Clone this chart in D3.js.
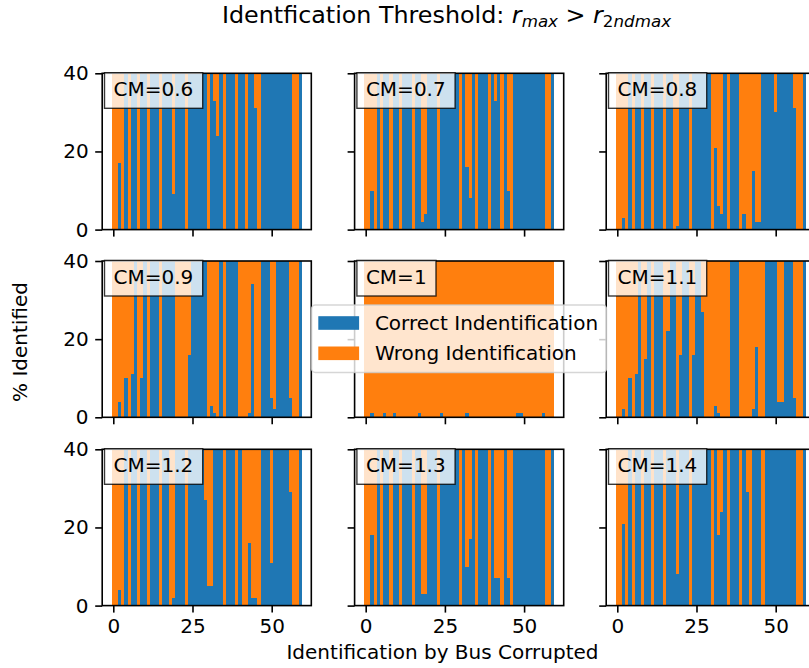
<!DOCTYPE html>
<html>
<head>
<meta charset="utf-8">
<script src="https://cdn.jsdelivr.net/npm/d3@7"></script>
<style>
  html, body { margin: 0; padding: 0; background: #ffffff; }
  svg { display: block; }
  text { font-family: "DejaVu Sans", sans-serif; fill: #000; }
</style>
</head>
<body>
<svg id="chart" width="809" height="668"></svg>
<script>
// Buses 0..59, each corrupted in 40 trials
const trialsPerBus = 40;
const buses = d3.range(60);
const xTicks = [0, 25, 50];
const yTicks = [0, 20, 40];
const cmLabels = ["CM=0.6", "CM=0.7", "CM=0.8", "CM=0.9", "CM=1", "CM=1.1", "CM=1.2", "CM=1.3", "CM=1.4"];
const seriesNames = ["Correct Indentification", "Wrong Identification"];

// Correct identifications per bus (out of 40) for each CM
const correctCM06 = [0,0,17,0,40,0,40,40,0,40, 40,0,40,40,40,0,40,40,40,9, 40,40,40,0,40,40,40,40,40,40, 0,40,33,24,40,0,40,40,40,0, 40,40,0,40,40,31,0,40,40,40, 40,40,40,40,40,40,40,0,0,40];
const correctCM07 = [0,0,10,0,40,0,40,40,0,40, 40,0,40,40,40,0,40,40,2,4, 40,40,40,0,40,40,40,40,40,40, 0,40,16,8,40,0,40,40,40,0, 40,33,40,0,40,10,0,40,40,40, 40,40,40,40,40,40,40,0,0,40];
const correctCM08 = [0,0,3,0,40,0,40,40,0,40, 40,0,40,40,40,0,40,40,0,1, 40,40,40,0,40,40,40,40,40,40, 0,21,6,4,40,0,40,40,40,0, 4,0,0,15,2,2,40,40,40,40, 30,40,40,40,40,40,31,0,0,40];
const correctCM09 = [0,0,4,0,10,0,11,40,0,10, 40,0,40,40,40,0,40,40,40,40, 0,0,0,0,16,40,40,40,40,40, 0,3,1,0,40,0,40,40,40,40, 0,0,0,1,34,0,0,40,40,40, 5,2,40,40,40,40,5,0,0,40];
const correctCM10 = [0,0,1,0,0,0,1,0,0,1, 0,0,0,0,0,0,0,1,0,0, 0,0,0,0,1,0,0,0,0,0, 0,0,1,0,0,0,0,0,0,0, 0,0,0,0,0,0,0,0,1,1, 0,0,0,0,0,0,1,0,0,0];
const correctCM11 = [0,0,2,0,10,0,11,40,0,15, 40,0,40,40,40,0,22,40,40,0, 16,40,40,0,16,40,40,27,0,0, 0,3,1,0,0,0,40,40,40,0, 0,0,0,2,18,0,0,40,40,40, 40,4,4,40,40,40,5,0,0,40];
const correctCM12 = [0,0,4,0,40,0,40,40,0,40, 40,0,40,40,40,0,40,40,0,2, 40,40,40,0,40,40,40,40,40,27, 5,5,40,40,40,0,40,40,40,0, 40,0,0,16,2,2,0,40,40,40, 11,40,40,40,40,40,29,0,0,40];
const correctCM13 = [0,0,18,0,40,0,40,40,0,40, 40,0,40,40,40,0,40,40,3,3, 40,40,40,0,40,40,40,40,40,40, 0,40,10,17,40,0,40,40,40,0, 40,7,7,0,40,7,0,40,40,40, 40,40,40,40,40,40,40,0,0,40];
const correctCM14 = [0,0,21,0,40,0,40,40,0,40, 40,0,40,40,40,0,40,40,40,8, 40,40,40,0,40,40,40,40,40,40, 0,40,18,24,40,0,40,40,40,0, 40,29,0,40,40,40,0,40,40,40, 40,40,40,40,40,40,40,0,0,40];

const correctByPanel = [correctCM06, correctCM07, correctCM08, correctCM09, correctCM10,
                        correctCM11, correctCM12, correctCM13, correctCM14];

const colors = { correct: "#1f77b4", wrong: "#ff7f0e" };

// Layout of the 3x3 grid
const colLeft = [102.2, 354.6, 606.2];
const rowTop = [73.3, 261.0, 449.3];
const panelW = 209.1, panelH = 156.3;
const fontSize = 20;
const tickLen = 7, lineW = 1.6;

const svg = d3.select("#chart");

const x = d3.scaleLinear().domain([-3.5, 62.5]).range([0, panelW]);
const y = d3.scaleLinear().domain([0, trialsPerBus]).range([panelH, 0]);

correctByPanel.forEach((correct, i) => {
  const row = Math.floor(i / 3), col = i % 3;
  const g = svg.append("g").attr("transform", `translate(${colLeft[col]},${rowTop[row]})`);

  const rows = buses.map(b => ({ bus: b, correct: correct[b], wrong: trialsPerBus - correct[b] }));
  const stacked = d3.stack().keys(["correct", "wrong"])(rows);

  g.append("g").selectAll("g")
    .data(stacked)
    .join("g")
    .attr("fill", d => colors[d.key])
    .selectAll("rect")
    .data(d => d)
    .join("rect")
    .attr("shape-rendering", "crispEdges")
    .attr("x", d => x(d.data.bus - 0.5))
    .attr("width", d => x(d.data.bus + 0.5) - x(d.data.bus - 0.5))
    .attr("y", d => y(d[1]))
    .attr("height", d => y(d[0]) - y(d[1]));

  // axes frame
  g.append("rect")
    .attr("width", panelW).attr("height", panelH)
    .attr("fill", "none").attr("stroke", "#000").attr("stroke-width", lineW);

  const yAxis = d3.axisLeft(y).tickValues(yTicks).tickSize(tickLen).tickPadding(6.6)
    .tickFormat(col === 0 ? d3.format("d") : () => "");
  const xAxis = d3.axisBottom(x).tickValues(xTicks).tickSize(tickLen).tickPadding(6.4)
    .tickFormat(row === 2 ? d3.format("d") : () => "");

  const ya = g.append("g").call(yAxis);
  const xa = g.append("g").attr("transform", `translate(0,${panelH})`).call(xAxis);
  [ya, xa].forEach(a => {
    a.attr("font-family", "DejaVu Sans").attr("font-size", fontSize);
    a.select(".domain").remove();
    a.selectAll(".tick line").attr("stroke", "#000").attr("stroke-width", lineW);
    a.selectAll(".tick text").attr("fill", "#000");
  });

  // CM label box in the upper left corner
  const lbl = g.append("g");
  const box = lbl.append("rect");
  const t = lbl.append("text")
    .attr("x", 11.3).attr("y", 22.9)
    .attr("font-size", fontSize)
    .text(cmLabels[i]);
  const tw = t.node().getComputedTextLength();
  box.attr("x", 2.3).attr("y", -0.6)
    .attr("width", tw + 18.4).attr("height", 35.6)
    .attr("fill", "#fff").attr("fill-opacity", 0.78)
    .attr("stroke", "#000").attr("stroke-opacity", 0.78).attr("stroke-width", 1.4);
});

// Shared legend
const leg = svg.append("g").attr("transform", "translate(311.5,305)");
leg.append("rect")
  .attr("width", 295).attr("height", 67.5).attr("rx", 3.9)
  .attr("fill", "#fff").attr("fill-opacity", 0.8)
  .attr("stroke", "#cccccc").attr("stroke-opacity", 0.8).attr("stroke-width", 1.4);
[colors.correct, colors.wrong].forEach((c, k) => {
  leg.append("rect")
    .attr("x", 6.8).attr("y", 11.2 + k * 30.3)
    .attr("width", 40.8).attr("height", 13.6)
    .attr("fill", c);
  leg.append("text")
    .attr("x", 63.4).attr("y", 24.5 + k * 30.3)
    .attr("font-size", fontSize)
    .text(seriesNames[k]);
});

// Figure title with math-style subscripts
const title = svg.append("text")
  .attr("x", 446.5).attr("y", 23)
  .attr("text-anchor", "middle")
  .attr("font-size", 23.8);
title.append("tspan").text("Identfication Threshold: ");
title.append("tspan").attr("font-style", "italic").text("r");
title.append("tspan").attr("font-style", "italic").attr("font-size", 16.7).attr("dy", 4.3).text("max");
title.append("tspan").attr("dy", -4.3).text(" > ");
title.append("tspan").attr("font-style", "italic").text("r");
title.append("tspan").attr("font-size", 16.7).attr("dy", 4.3).text("2");
title.append("tspan").attr("font-style", "italic").attr("font-size", 16.7).text("ndmax");

// Shared axis labels
svg.append("text")
  .attr("x", 442.5).attr("y", 659)
  .attr("text-anchor", "middle")
  .attr("font-size", fontSize)
  .text("Identification by Bus Corrupted");

svg.append("text")
  .attr("transform", "translate(27,342) rotate(-90)")
  .attr("text-anchor", "middle")
  .attr("font-size", fontSize)
  .text("% Identified");
</script>
</body>
</html>
